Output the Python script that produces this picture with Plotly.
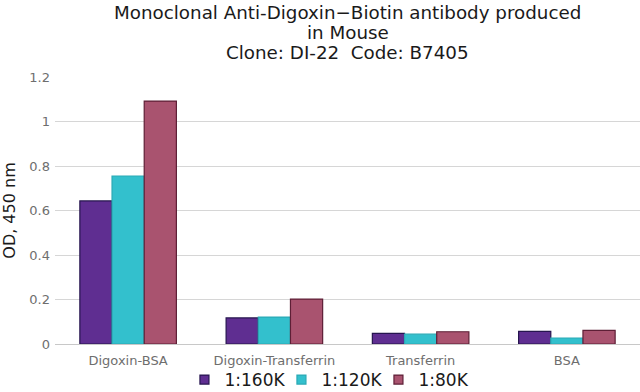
import plotly.graph_objects as go

categories = ["Digoxin-BSA", "Digoxin-Transferrin", "Transferrin", "BSA"]
series_names = ["1:160K", "1:120K", "1:80K"]
v_160k = [0.643, 0.117, 0.048, 0.057]
v_120k = [0.755, 0.121, 0.044, 0.027]
v_80k = [1.092, 0.202, 0.055, 0.061]
y_ticks = [0, 0.2, 0.4, 0.6, 0.8, 1, 1.2]
y_tick_labels = ["0", "0.2", "0.4", "0.6", "0.8", "1", "1.2"]
title_lines = [
    "Monoclonal Anti-Digoxin−Biotin antibody produced",
    "in Mouse",
    "Clone: DI-22  Code: B7405",
]
title_y = [1.2434, 1.1685, 1.0936]

fills = ["#5F2E91", "#33C0CD", "#A9536F"]
outlines = ["#26154F", "#2AA9B5", "#5E1F36"]

fig = go.Figure()
for name, vals, fc, lc in zip(series_names, [v_160k, v_120k, v_80k], fills, outlines):
    fig.add_trace(go.Bar(
        x=categories, y=vals, name=name, showlegend=False,
        marker=dict(color=fc, line=dict(color=lc, width=1.2)),
    ))
# legend entries (small square swatches)
for name, fc, lc in zip(series_names, fills, outlines):
    fig.add_trace(go.Scatter(
        x=[None], y=[None], mode="markers", name=name,
        marker=dict(symbol="square", size=9, color=fc, line=dict(color=lc, width=1.2)),
    ))

annotations = [
    dict(text=t, xref="paper", yref="paper", x=0.5, y=yy,
         xanchor="center", yanchor="middle", showarrow=False,
         font=dict(size=18.3, color="#1a1a1a"))
    for t, yy in zip(title_lines, title_y)
]

fig.update_layout(
    width=640, height=392,
    margin=dict(l=55, r=0, t=77, b=48, autoexpand=False),
    paper_bgcolor="white", plot_bgcolor="white",
    font=dict(family="DejaVu Sans", color="#222222"),
    barmode="group", bargap=0.34, bargroupgap=0,
    legend=dict(
        orientation="h", x=0.47, xanchor="center", y=-0.135, yanchor="middle",
        font=dict(size=17, color="#1a1a1a"), itemwidth=30,
        entrywidth=52, entrywidthmode="pixels",
        bgcolor="rgba(0,0,0,0)",
        traceorder="normal",
    ),
    showlegend=True,
    annotations=annotations,
)
fig.update_yaxes(
    range=[0, 1.2], tickvals=y_ticks, ticktext=y_tick_labels,
    showgrid=True, gridcolor="#D6D6D6", gridwidth=1,
    zeroline=True, zerolinecolor="#C8C8C8", zerolinewidth=1,
    tickfont=dict(size=13, color="#6E6E6E"), ticklabelstandoff=4,
    title=dict(text="OD, 450 nm", font=dict(size=16, color="#1a1a1a"), standoff=10),
    ticks="", showline=False, automargin=False,
)
fig.update_xaxes(
    tickfont=dict(size=13, color="#6E6E6E"), showline=False, ticks="",
    automargin=False, ticklabelstandoff=7,
)

fig.write_html("out.html", config={"displayModeBar": False},
               post_script="document.body.style.margin='0px';")
